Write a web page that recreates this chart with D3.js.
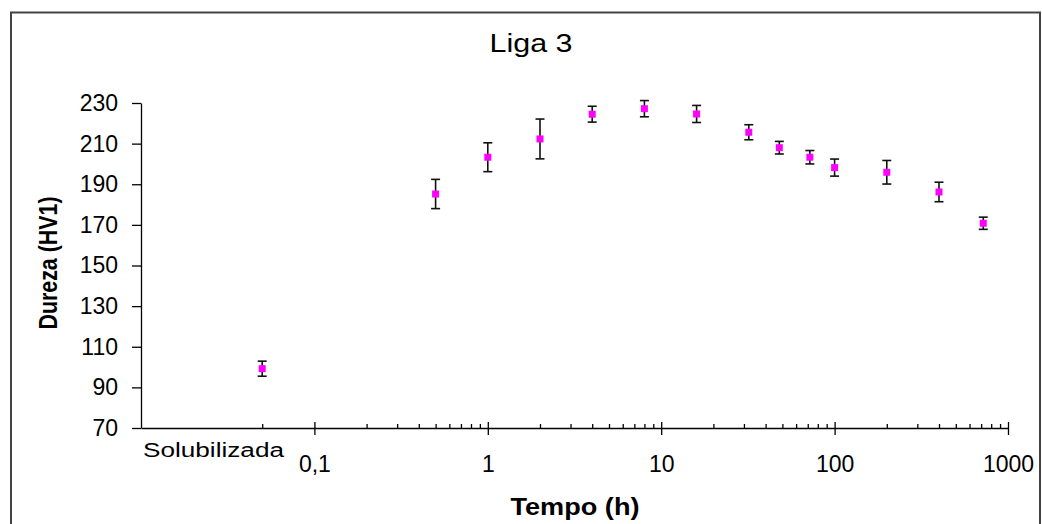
<!DOCTYPE html>
<html>
<head>
<meta charset="utf-8">
<script src="https://cdn.jsdelivr.net/npm/d3@7"></script>
<style>
  body { margin: 0; background: #fff; }
  text { font-family: "Liberation Sans", Arial, sans-serif; fill: #000; }
</style>
</head>
<body>
<script>
// time in hours (0.05 stands in for the "Solubilizada" sample)
const tempo = [0.05, 0.5, 1, 2, 4, 8, 16, 32, 48, 72, 100, 200, 400, 720];
const dureza = [99.2, 185.2, 203.3, 212.3, 224.5, 227.2, 224.6, 215.6, 208, 203.3, 198.2, 195.9, 186.2, 170.8];
const erro = [3.7, 7.2, 7.1, 9.8, 3.9, 4.0, 4.2, 3.7, 3.1, 3.3, 4.2, 5.8, 4.8, 3.0];

const yTicks = [70, 90, 110, 130, 150, 170, 190, 210, 230];
const xTicks = [0.1, 1, 10, 100, 1000];
const xTickLabels = ["0,1", "1", "10", "100", "1000"];
const xMinor = [0.05, 0.2, 0.3, 0.4, 0.5, 0.6, 0.7, 0.8, 0.9,
  2, 3, 4, 5, 6, 7, 8, 9, 20, 30, 40, 50, 60, 70, 80, 90,
  200, 300, 400, 500, 600, 700, 800, 900];

const svg = d3.select("body").append("svg")
  .attr("width", 1042)
  .attr("height", 524);

// outer frame
svg.append("rect")
  .attr("x", 11).attr("y", 12.5)
  .attr("width", 1029).attr("height", 530)
  .attr("fill", "none")
  .attr("stroke", "#444")
  .attr("stroke-width", 2);

const x = d3.scaleLog().domain([0.01, 1000]).range([141, 1008]);
const y = d3.scaleLinear().domain([70, 230]).range([428, 103]);

// y axis
const yAxis = svg.append("g")
  .attr("transform", "translate(141,0)")
  .call(d3.axisLeft(y).tickValues(yTicks).tickSize(9).tickPadding(14).tickSizeOuter(0));
yAxis.selectAll("text").style("font-size", "23px").attr("font-family", null);

// x axis: labels + lower part of major ticks
const xAxis = svg.append("g")
  .attr("transform", "translate(0,428)")
  .call(d3.axisBottom(x).tickValues(xTicks).tickFormat((d, i) => xTickLabels[i]).tickSize(7).tickSizeOuter(0));
xAxis.selectAll("text").style("font-size", "23px").attr("font-family", null)
  .attr("y", 44).attr("dy", 0);

// upper part of major ticks
svg.append("g")
  .attr("transform", "translate(0,428)")
  .call(d3.axisTop(x).tickValues(xTicks).tickFormat("").tickSize(6).tickSizeOuter(0))
  .select(".domain").remove();

// minor ticks
svg.append("g")
  .attr("transform", "translate(0,428)")
  .call(d3.axisTop(x).tickValues(xMinor).tickFormat("").tickSize(4).tickSizeOuter(0))
  .select(".domain").remove();

svg.selectAll(".domain, .tick line").attr("stroke", "#000").attr("stroke-width", 1.3);

svg.append("text")
  .attr("x", 143).attr("y", 457)
  .style("font-size", "20px")
  .attr("textLength", 141)
  .attr("lengthAdjust", "spacingAndGlyphs")
  .text("Solubilizada");

// titles
svg.append("text")
  .attr("x", 531).attr("y", 52)
  .attr("text-anchor", "middle")
  .style("font-size", "26px")
  .attr("textLength", 83)
  .attr("lengthAdjust", "spacingAndGlyphs")
  .text("Liga 3");

svg.append("text")
  .attr("x", 575).attr("y", 515)
  .attr("text-anchor", "middle")
  .style("font-size", "23px")
  .style("font-weight", "bold")
  .attr("textLength", 129)
  .attr("lengthAdjust", "spacingAndGlyphs")
  .text("Tempo (h)");

svg.append("text")
  .attr("transform", "translate(57,263) rotate(-90)")
  .attr("text-anchor", "middle")
  .style("font-size", "25px")
  .style("font-weight", "bold")
  .attr("textLength", 133)
  .attr("lengthAdjust", "spacingAndGlyphs")
  .text("Dureza (HV1)");

// error bars
const pts = tempo.map((t, i) => ({ t: t, v: dureza[i], e: erro[i] }));
const bars = svg.append("g").attr("stroke", "#111").attr("stroke-width", 1.6);
bars.selectAll("line.v").data(pts).join("line")
  .attr("class", "v")
  .attr("x1", d => x(d.t)).attr("x2", d => x(d.t))
  .attr("y1", d => y(d.v + d.e)).attr("y2", d => y(d.v - d.e));
bars.selectAll("line.top").data(pts).join("line")
  .attr("class", "top")
  .attr("x1", d => x(d.t) - 4.5).attr("x2", d => x(d.t) + 4.5)
  .attr("y1", d => y(d.v + d.e)).attr("y2", d => y(d.v + d.e));
bars.selectAll("line.bot").data(pts).join("line")
  .attr("class", "bot")
  .attr("x1", d => x(d.t) - 4.5).attr("x2", d => x(d.t) + 4.5)
  .attr("y1", d => y(d.v - d.e)).attr("y2", d => y(d.v - d.e));

// markers
svg.append("g").selectAll("rect").data(pts).join("rect")
  .attr("x", d => x(d.t) - 3.5).attr("y", d => y(d.v) - 3.5)
  .attr("width", 7).attr("height", 7)
  .attr("fill", "#ff00ff");
</script>
</body>
</html>
